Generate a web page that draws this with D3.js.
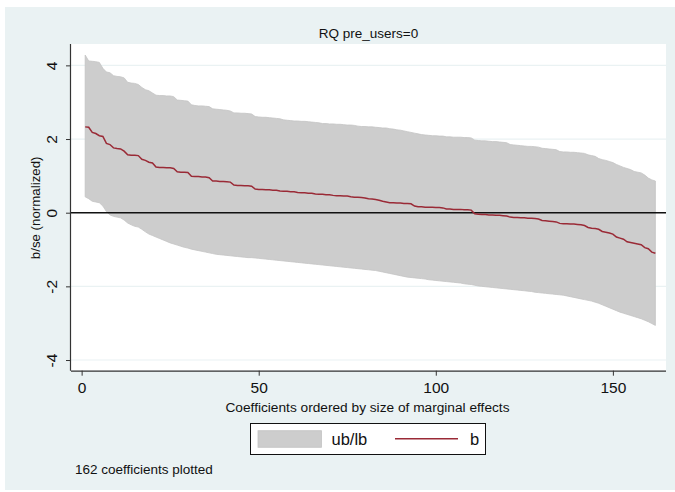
<!DOCTYPE html>
<html>
<head>
<meta charset="utf-8">
<script src="https://cdn.jsdelivr.net/npm/d3@7"></script>
<style>
  html, body { margin: 0; padding: 0; background: #ffffff; }
  svg { display: block; }
  text { font-family: "Liberation Sans", Arial, Helvetica, sans-serif; fill: #111; }
</style>
</head>
<body>
<svg id="chart" width="675" height="492"></svg>
<script>
// ---- Data ----
const titleText = "RQ pre_users=0";
const xTicks = [0, 50, 100, 150];
const yTicks = [-4, -2, 0, 2, 4];

const ub = [
  4.28,
  4.12, 4.11, 4.10, 4.08,
  3.92, 3.82, 3.80,
  3.72, 3.70, 3.69, 3.66,
  3.54, 3.52, 3.51, 3.48,
  3.40, 3.34, 3.31, 3.25,
  3.19, 3.18, 3.18, 3.17, 3.17, 3.15,
  3.06, 3.05, 3.04, 3.03,
  2.93, 2.91, 2.90, 2.90, 2.89, 2.88,
  2.82, 2.81, 2.80, 2.79, 2.78, 2.76,
  2.71, 2.71, 2.70, 2.70, 2.69, 2.68,
  2.61, 2.60, 2.59, 2.59, 2.58, 2.57, 2.56, 2.55,
  2.52, 2.51, 2.50, 2.49, 2.49, 2.48, 2.48, 2.47, 2.46, 2.45, 2.44,
  2.42,
  2.42, 2.41, 2.41, 2.40, 2.40, 2.39, 2.38, 2.38, 2.37,
  2.35, 2.34, 2.34, 2.33, 2.33, 2.32, 2.31, 2.30, 2.30,
  2.28, 2.27, 2.25, 2.24, 2.22, 2.20, 2.18, 2.16, 2.14, 2.12, 2.11,
  2.10, 2.09, 2.09, 2.08, 2.08,
  2.06, 2.06, 2.05, 2.05, 2.05, 2.04, 2.04, 2.03,
  1.97, 1.96, 1.95, 1.95, 1.94, 1.93, 1.93, 1.92, 1.91, 1.90,
  1.85, 1.84, 1.83, 1.82, 1.81, 1.80, 1.80, 1.79, 1.78,
  1.75, 1.74, 1.73, 1.72, 1.71,
  1.66, 1.65, 1.65, 1.64, 1.64, 1.63, 1.62, 1.61,
  1.57, 1.55, 1.53,
  1.47, 1.44, 1.42, 1.39, 1.36,
  1.31, 1.27, 1.23, 1.20, 1.17,
  1.12, 1.10, 1.08,
  1.02, 0.94, 0.89, 0.86
];

const lb = [
  0.43, 0.38, 0.31, 0.29, 0.27, 0.18, 0.03, -0.06, -0.10, -0.12,
  -0.14, -0.20, -0.28, -0.33, -0.37, -0.39, -0.45, -0.52, -0.58, -0.62,
  -0.66, -0.70, -0.74, -0.78, -0.82, -0.85, -0.88, -0.91, -0.94, -0.96,
  -0.99, -1.01, -1.03, -1.05, -1.07, -1.09, -1.11, -1.13, -1.14, -1.15,
  -1.16, -1.17, -1.18, -1.19, -1.20, -1.21, -1.22, -1.22, -1.23, -1.24,
  -1.25, -1.26, -1.27, -1.28, -1.29, -1.30, -1.31, -1.32, -1.33, -1.34,
  -1.35, -1.36, -1.37, -1.38, -1.39, -1.40, -1.41, -1.42, -1.43, -1.44,
  -1.45, -1.46, -1.47, -1.48, -1.49, -1.50, -1.51, -1.52, -1.53, -1.54,
  -1.55, -1.56, -1.57, -1.59, -1.61, -1.63, -1.65, -1.67, -1.69, -1.71,
  -1.73, -1.75, -1.76, -1.77, -1.78, -1.79, -1.80, -1.82, -1.83, -1.84,
  -1.85, -1.86, -1.87, -1.88, -1.89, -1.90, -1.91, -1.93, -1.94, -1.95,
  -1.97, -1.99, -2.00, -2.01, -2.02, -2.03, -2.04, -2.05, -2.06, -2.07,
  -2.08, -2.09, -2.10, -2.11, -2.12, -2.13, -2.14, -2.16, -2.17, -2.18,
  -2.19, -2.20, -2.21, -2.22, -2.23, -2.24, -2.26, -2.28, -2.30, -2.32,
  -2.34, -2.36, -2.38, -2.40, -2.43, -2.46, -2.50, -2.54, -2.58, -2.62,
  -2.66, -2.70, -2.73, -2.76, -2.79, -2.82, -2.85, -2.88, -2.92, -2.96,
  -3.01, -3.06
];

const b = [
  2.33, 2.32, 2.18, 2.15, 2.09, 2.07, 1.88, 1.85, 1.76, 1.74,
  1.73, 1.67, 1.57, 1.56, 1.56, 1.55, 1.45, 1.42, 1.37, 1.35,
  1.24, 1.23, 1.23, 1.22, 1.22, 1.20,
  1.11, 1.10, 1.10, 1.09,
  0.99, 0.98, 0.98, 0.97, 0.97, 0.95,
  0.86, 0.86, 0.85, 0.85, 0.84, 0.83,
  0.75, 0.74, 0.74, 0.73, 0.73, 0.72,
  0.64, 0.63, 0.63, 0.62, 0.62, 0.61, 0.61,
  0.59, 0.58, 0.58, 0.57, 0.57,
  0.55, 0.54, 0.54, 0.53, 0.53,
  0.51, 0.50, 0.50, 0.49, 0.49,
  0.47, 0.46, 0.46, 0.45, 0.45,
  0.43, 0.42, 0.42, 0.41, 0.40,
  0.38, 0.37, 0.36, 0.34, 0.31, 0.29,
  0.27, 0.27, 0.26, 0.26, 0.25, 0.25, 0.24,
  0.18, 0.16, 0.16, 0.15, 0.15, 0.15, 0.14, 0.14, 0.13,
  0.10, 0.10, 0.09, 0.09, 0.09, 0.08, 0.08, 0.07,
  -0.03, -0.04, -0.05, -0.05, -0.06, -0.06, -0.07, -0.07, -0.08, -0.09,
  -0.12, -0.13, -0.13, -0.14, -0.14, -0.15, -0.15, -0.16, -0.17,
  -0.21, -0.22, -0.23, -0.24, -0.25,
  -0.29, -0.30, -0.30, -0.31, -0.31, -0.32, -0.33, -0.35,
  -0.40, -0.42, -0.43, -0.45,
  -0.51, -0.53, -0.55, -0.58,
  -0.66, -0.69, -0.72,
  -0.79, -0.81, -0.83, -0.85, -0.87,
  -0.95, -0.98,
  -1.07, -1.10
];

// ---- Layout ----
const svg = d3.select("#chart");
const W = 675;
const plot = { left: 71, right: 666, top: 44, bottom: 370.7 };

const x = d3.scaleLinear().domain([-3, 165]).range([plot.left, plot.right]);
const y = d3.scaleLinear().domain([-4.29, 4.58]).range([plot.bottom, plot.top]);

const bandColor = "#cdcdcd";
const lineColor = "#9a2a36";
const tickFont = 15.5;

// outer background
svg.append("rect").attr("x", 5).attr("y", 7).attr("width", W - 5).attr("height", 483)
  .attr("fill", "#eaf2f3");

// plot region
svg.append("rect").attr("x", plot.left).attr("y", plot.top)
  .attr("width", plot.right - plot.left).attr("height", plot.bottom - plot.top)
  .attr("fill", "#ffffff");

// gridlines
svg.append("g").selectAll("line").data(yTicks).join("line")
  .attr("x1", plot.left).attr("x2", plot.right)
  .attr("y1", d => y(d)).attr("y2", d => y(d))
  .attr("stroke", "#eaf2f3").attr("stroke-width", 1.2);

// data
const pts = ub.map((u, i) => ({ i: i + 1, ub: u, lb: lb[i], b: b[i] }));

svg.append("path").datum(pts)
  .attr("d", d3.area().x(d => x(d.i)).y0(d => y(d.lb)).y1(d => y(d.ub)))
  .attr("fill", bandColor).attr("stroke", "#c4c4c4").attr("stroke-width", 0.8);

// zero line
svg.append("line").attr("x1", plot.left).attr("x2", plot.right)
  .attr("y1", y(0)).attr("y2", y(0)).attr("stroke", "#111").attr("stroke-width", 1.4);

svg.append("path").datum(pts)
  .attr("d", d3.line().x(d => x(d.i)).y(d => y(d.b)))
  .attr("fill", "none").attr("stroke", lineColor).attr("stroke-width", 1.5);

// axes
const fmt = d => String(d);
const xAxis = d3.axisBottom(x).tickValues(xTicks).tickSize(5).tickPadding(6).tickFormat(fmt);
const gx = svg.append("g").attr("transform", `translate(0,${plot.bottom})`).call(xAxis);
gx.select(".domain").attr("d", `M${plot.left},0.5H${plot.right}`).attr("stroke", "#333").attr("stroke-width", 1.2);
gx.selectAll(".tick line").attr("stroke", "#333");
gx.selectAll(".tick text").attr("font-size", tickFont).attr("fill", "#111")
  .attr("font-family", "Liberation Sans, Arial, sans-serif");

const yAxis = d3.axisLeft(y).tickValues(yTicks).tickSize(5).tickFormat(fmt);
const gy = svg.append("g").attr("transform", `translate(${plot.left},0)`).call(yAxis);
gy.select(".domain").attr("d", `M-0.5,${plot.top}V${plot.bottom}`).attr("stroke", "#333").attr("stroke-width", 1.2);
gy.selectAll(".tick line").attr("stroke", "#333");
gy.selectAll(".tick text")
  .attr("x", null).attr("dy", null)
  .attr("transform", "translate(-14,0) rotate(-90)")
  .attr("text-anchor", "middle")
  .attr("font-size", tickFont).attr("fill", "#111")
  .attr("font-family", "Liberation Sans, Arial, sans-serif");

// title
svg.append("text").attr("x", (plot.left + plot.right) / 2).attr("y", 38)
  .attr("text-anchor", "middle").attr("font-size", 13.5).attr("fill", "#1e3550").text(titleText);

// axis titles
svg.append("text").attr("x", (plot.left + plot.right) / 2 - 1).attr("y", 411.5)
  .attr("text-anchor", "middle").attr("font-size", 13.7).text("Coefficients ordered by size of marginal effects");

svg.append("text")
  .attr("transform", `translate(39.5,${(plot.top + plot.bottom) / 2 + 0.5}) rotate(-90)`)
  .attr("text-anchor", "middle").attr("font-size", 13.3).text("b/se (normalized)");

// legend
const lg = svg.append("g");
lg.append("rect").attr("x", 250.5).attr("y", 423.5).attr("width", 235).attr("height", 31)
  .attr("fill", "#ffffff").attr("stroke", "#111").attr("stroke-width", 1);
lg.append("rect").attr("x", 258).attr("y", 430.7).attr("width", 63.5).attr("height", 16.6)
  .attr("fill", bandColor).attr("stroke", "#c4c4c4").attr("stroke-width", 0.8);
lg.append("text").attr("x", 331.5).attr("y", 444.8).attr("font-size", 16.5).text("ub/lb");
lg.append("line").attr("x1", 395).attr("x2", 458).attr("y1", 438.7).attr("y2", 438.7)
  .attr("stroke", lineColor).attr("stroke-width", 1.5);
lg.append("text").attr("x", 470).attr("y", 444.8).attr("font-size", 16.5).text("b");

// note
svg.append("text").attr("x", 75).attr("y", 474).attr("font-size", 13.5).text(`${ub.length} coefficients plotted`);
</script>
</body>
</html>
